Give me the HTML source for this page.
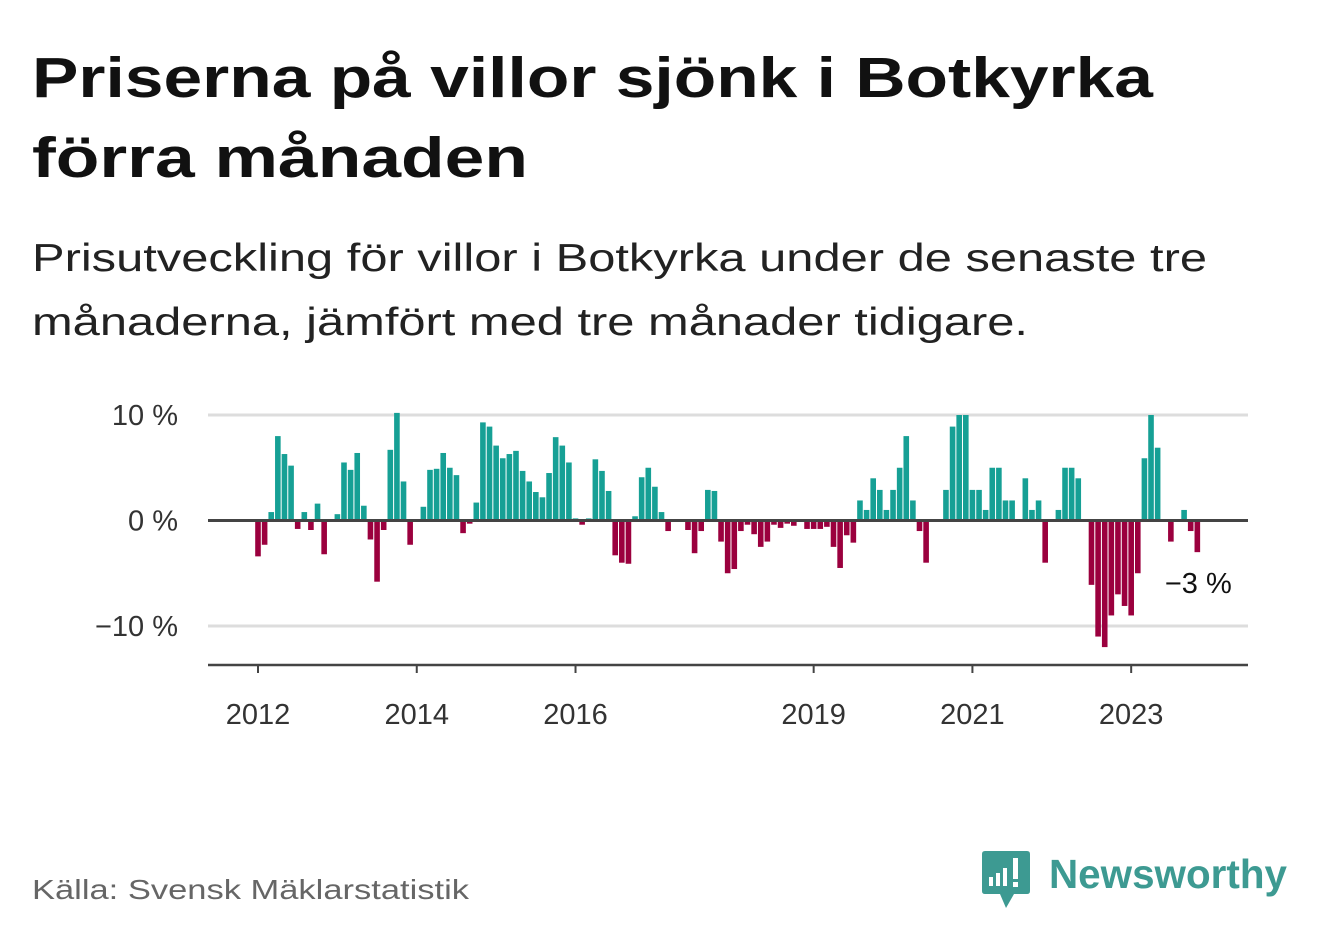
<!DOCTYPE html>
<html><head><meta charset="utf-8"><style>
html,body{margin:0;padding:0;background:#fff;width:1322px;height:939px;overflow:hidden}
svg{display:block;font-family:"Liberation Sans",sans-serif}
</style></head><body>
<svg id="root" width="1322" height="939" viewBox="0 0 1322 939">
<text x="32" y="97" font-size="57" font-weight="bold" fill="#111" textLength="1121" lengthAdjust="spacingAndGlyphs">Priserna på villor sjönk i Botkyrka</text>
<text x="32" y="177" font-size="57" font-weight="bold" fill="#111" textLength="496" lengthAdjust="spacingAndGlyphs">förra månaden</text>
<text x="32" y="271" font-size="39" fill="#222" textLength="1175" lengthAdjust="spacingAndGlyphs">Prisutveckling för villor i Botkyrka under de senaste tre</text>
<text x="32" y="335" font-size="39" fill="#222" textLength="996" lengthAdjust="spacingAndGlyphs">månaderna, jämfört med tre månader tidigare.</text>
<g id="plot"></g>
<text x="32" y="899" font-size="28" fill="#666" textLength="437" lengthAdjust="spacingAndGlyphs">Källa: Svensk Mäklarstatistik</text>
<g>
<path d="M985 851 H1027 Q1030 851 1030 854 V891 Q1030 894 1027 894 H1014 L1006 908 L1000 894 H985 Q982 894 982 891 V854 Q982 851 985 851 Z" fill="#3d9a92"/>
<rect x="989" y="877" width="4" height="9" fill="#fff"/>
<rect x="996" y="873" width="4" height="13" fill="#fff"/>
<rect x="1003" y="868" width="4" height="18" fill="#fff"/>
<rect x="1013" y="858" width="5" height="21" fill="#fff"/>
<rect x="1013" y="882" width="5" height="5" fill="#fff"/>
<text x="1049" y="888" font-size="41" font-weight="bold" fill="#3d9a92" textLength="238" lengthAdjust="spacingAndGlyphs">Newsworthy</text>
</g>
</svg>
<script>
const values = [-3.4,-2.3,0.8,8.0,6.3,5.2,-0.8,0.8,-0.9,1.6,
-3.2,null,0.6,5.5,4.8,6.4,1.4,-1.8,-5.8,-0.9,
6.7,10.2,3.7,-2.3,null,1.3,4.8,4.9,6.4,5.0,
4.3,-1.2,-0.3,1.7,9.3,8.9,7.1,5.9,6.3,6.6,
4.7,3.7,2.7,2.2,4.5,7.9,7.1,5.5,0.2,-0.4,
0.2,5.8,4.7,2.8,-3.3,-4.0,-4.1,0.4,4.1,5.0,
3.2,0.8,-1.0,null,null,-0.9,-3.1,-1.0,2.9,2.8,
-2.0,-5.0,-4.6,-1.0,-0.4,-1.3,-2.5,-2.0,-0.4,-0.7,
-0.3,-0.5,null,-0.8,-0.8,-0.8,-0.6,-2.5,-4.5,-1.4,
-2.1,1.9,1.0,4.0,2.9,1.0,2.9,5.0,8.0,1.9,
-1.0,-4.0,null,null,2.9,8.9,10,10,2.9,2.9,
1.0,5.0,5.0,1.9,1.9,null,4.0,1.0,1.9,-4.0,
null,1.0,5.0,5.0,4.0,null,-6.1,-11.0,-12.0,-9.0,
-7.0,-8.1,-9.0,-5.0,5.9,10,6.9,null,-2.0,null,
1.0,-1.0,-3.0];
const startYear = 2012;
const yTicks = [10, 0, -10];
const yTickLabels = ["10 %", "0 %", "\u221210 %"];
const xTickYears = [2012, 2014, 2016, 2019, 2021, 2023];
const lastLabel = "\u22123 %";

const NS = "http://www.w3.org/2000/svg";
const g = document.getElementById('plot');
const X0 = 258, SLOT = 6.615, Y0 = 520.5, PX = 10.55, LEFT = 208, RIGHT = 1248;
const xScale = i => X0 + i * SLOT;
const yScale = v => Y0 - v * PX;
function mk(tag, attrs) { const e = document.createElementNS(NS, tag); for (const k in attrs) e.setAttribute(k, attrs[k]); g.appendChild(e); return e; }

yTicks.forEach((t, k) => {
  const y = yScale(t);
  if (t !== 0) {
    const l = mk('line', {x1: LEFT, x2: RIGHT, y1: y, y2: y, stroke: '#ddd', 'stroke-width': 3});
    
    
  }
  const tx = mk('text', {x: 178, y: y + 10, 'font-size': 29, fill: '#333', 'text-anchor': 'end'});
  tx.textContent = yTickLabels[k];
  
  
});

values.forEach((v, i) => {
  if (v === null) return;
  const y = yScale(v);
  const r = mk('rect', {x: xScale(i) - 2.8, y: Math.min(y, Y0), width: 5.6, height: Math.abs(y - Y0), fill: v >= 0 ? '#16a095' : '#9b003e'});
  
  
});

const zl = mk('line', {x1: LEFT, x2: RIGHT, y1: Y0, y2: Y0, stroke: '#444', 'stroke-width': 3});



const ax = mk('line', {x1: LEFT, x2: RIGHT, y1: 665, y2: 665, stroke: '#444', 'stroke-width': 2.5});



xTickYears.forEach(yr => {
  const x = xScale((yr - startYear) * 12);
  const tk = mk('line', {x1: x, x2: x, y1: 665, y2: 673, stroke: '#444', 'stroke-width': 2});
  
  
  const tx = mk('text', {x: x, y: 724, 'font-size': 29, fill: '#333', 'text-anchor': 'middle'});
  tx.textContent = String(yr);
  
  
});

const last = values.length - 1;
const lab = mk('text', {x: xScale(last) + 1, y: 593, 'font-size': 29, fill: '#111', 'text-anchor': 'middle'});
lab.textContent = lastLabel;


</script>
</body></html>
